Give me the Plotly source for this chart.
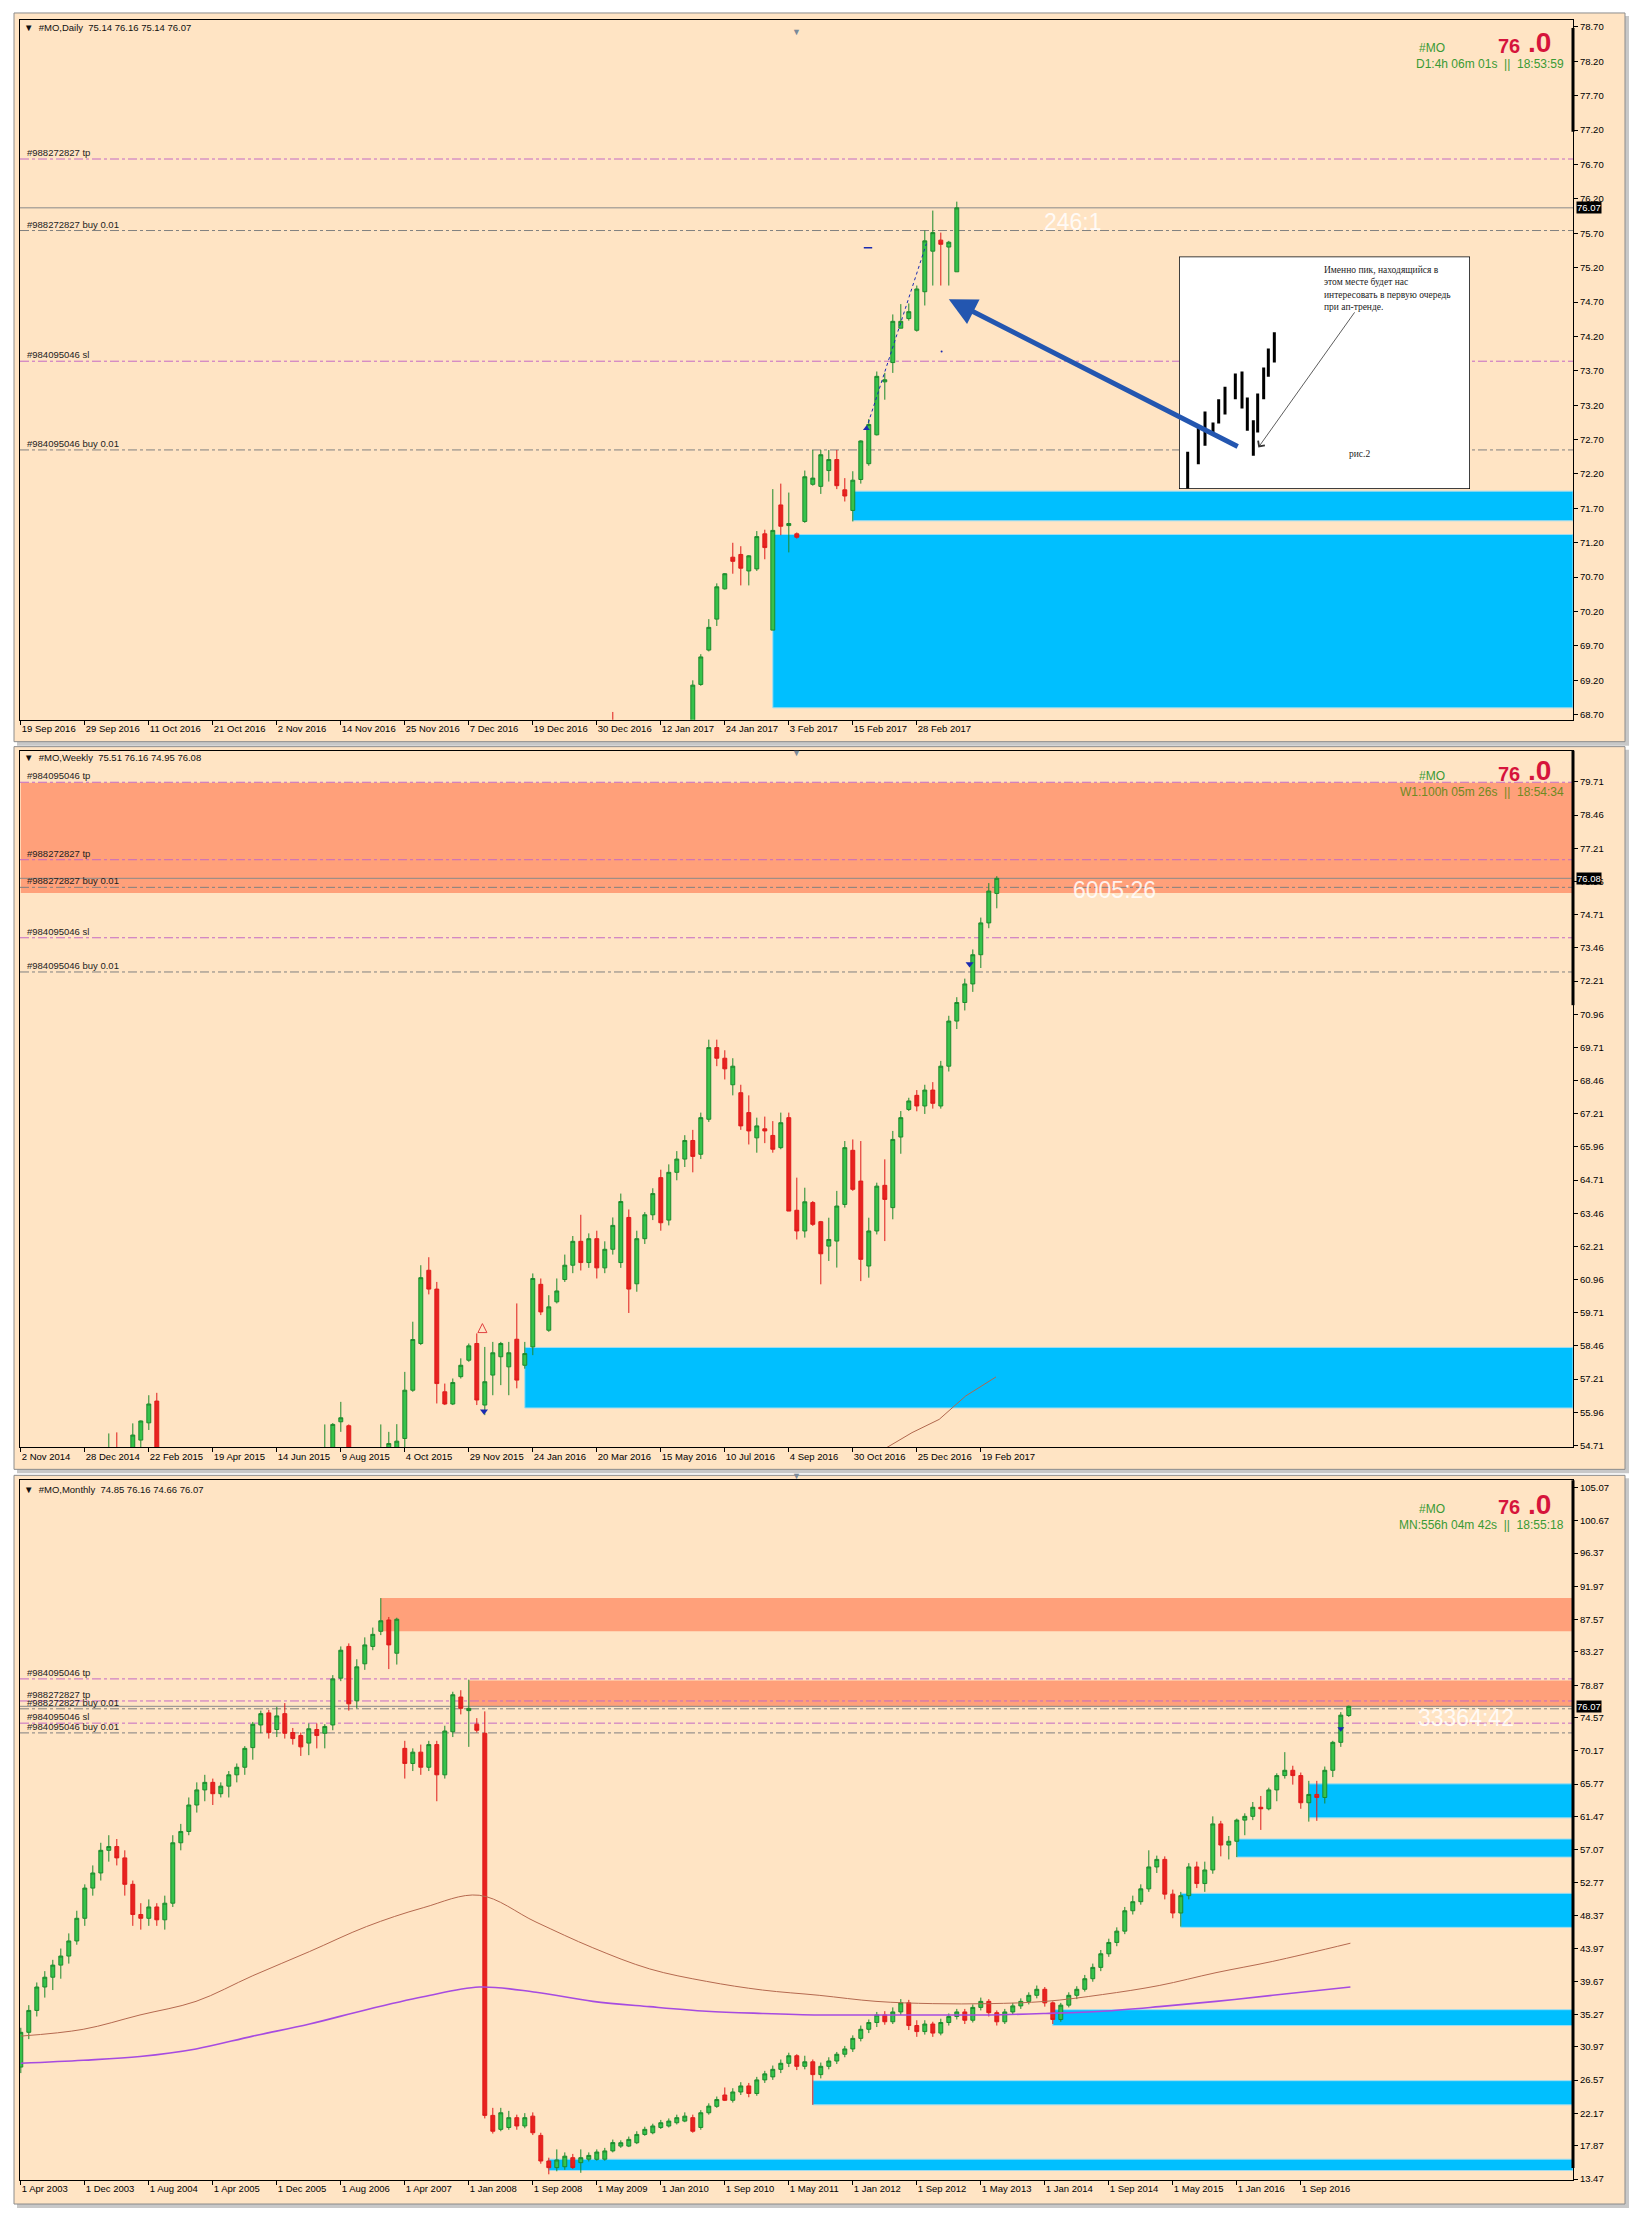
import plotly.graph_objects as go

W, H = 1631, 2217
BG = "#FFE4C4"
NARROW = "Liberation Sans Narrow, Arial Narrow, Liberation Sans, sans-serif"
SANS = "Liberation Sans, Arial, sans-serif"
G_LINE, G_FILL = "#1d8a2c", "#36c24b"
R_LINE, R_FILL = "#df1b1b", "#e8221f"
TP_COL, BUY_COL = "#c46ac4", "#808080"

# ---------------- DAILY ----------------
d_ticktext = ["19 Sep 2016", "29 Sep 2016", "11 Oct 2016", "21 Oct 2016", "2 Nov 2016",
              "14 Nov 2016", "25 Nov 2016", "7 Dec 2016", "19 Dec 2016", "30 Dec 2016",
              "12 Jan 2017", "24 Jan 2017", "3 Feb 2017", "15 Feb 2017", "28 Feb 2017"]
d_x = [74] + list(range(84, 118))
d_open = [68.50, 68.50, 69.14, 69.64, 70.09, 70.53, 70.99, 71.03, 70.79, 70.82, 71.33,
          69.93, 71.75, 71.45, 71.33, 71.51, 72.05, 72.02, 72.25, 72.41, 71.97, 71.67,
          72.12, 72.35, 72.77, 73.54, 73.82, 74.32, 74.46, 74.29, 74.85, 75.44, 75.60,
          75.50, 75.14]
d_high = [68.74, 69.20, 69.58, 70.09, 70.61, 70.76, 71.20, 71.15, 71.02, 71.37, 71.39,
          71.98, 72.06, 71.93, 71.35, 72.25, 72.55, 72.55, 72.55, 72.55, 72.14, 72.24,
          72.69, 73.00, 73.69, 73.67, 74.52, 74.67, 74.68, 74.94, 75.74, 76.03, 75.71,
          75.59, 76.16]
d_low = [68.20, 68.30, 69.12, 69.62, 69.99, 70.52, 70.75, 70.58, 70.58, 70.79, 70.96,
         69.93, 71.31, 71.06, 71.26, 71.49, 72.03, 71.91, 72.09, 71.98, 71.80, 71.51,
         72.06, 72.32, 72.76, 73.28, 73.67, 74.32, 74.43, 74.27, 74.65, 74.94, 74.94,
         74.94, 75.14]
d_close = [68.30, 69.13, 69.54, 69.97, 70.56, 70.75, 70.93, 70.83, 71.01, 71.29, 71.13,
           71.38, 71.44, 71.48, 71.28, 72.16, 72.14, 72.48, 72.41, 72.03, 71.88, 72.11,
           72.68, 72.92, 73.62, 73.57, 74.42, 74.42, 74.56, 74.89, 75.59, 75.71, 75.54,
           75.57, 76.07]
d_ticks = [68.70 + 0.5 * k for k in range(21)]
d_zones = [(94, 68.80, 71.32), (104, 71.52, 71.95)]          # (start bar, low, high)
d_trend_x = [105.7, 113.2]
d_trend_y = [72.86, 75.55]

# ---------------- WEEKLY ----------------
w_ticktext = ["2 Nov 2014", "28 Dec 2014", "22 Feb 2015", "19 Apr 2015", "14 Jun 2015",
              "9 Aug 2015", "4 Oct 2015", "29 Nov 2015", "24 Jan 2016", "20 Mar 2016",
              "15 May 2016", "10 Jul 2016", "4 Sep 2016", "30 Oct 2016", "25 Dec 2016",
              "19 Feb 2017"]
w_x = [11, 12, 14, 15, 16, 17, 38, 39, 40, 41] + list(range(45, 123))
w_open = [54.30, 54.50, 54.30, 54.91, 55.56, 56.38, 54.30, 54.40, 55.60, 55.45,
          54.30, 54.40, 54.40, 54.97, 56.79, 58.55, 61.31, 60.60, 56.73, 56.27,
          57.30, 57.92, 58.55, 56.23, 57.36, 58.05, 57.67, 58.71, 57.73, 58.42,
          60.78, 59.05, 60.12, 60.96, 61.50, 62.40, 61.60, 62.50, 61.40, 62.10,
          61.60, 63.30, 60.80, 62.50, 63.40, 64.80, 63.20, 65.00, 65.50, 66.20,
          65.68, 67.00, 69.70, 69.30, 68.30, 68.00, 67.25, 66.30, 66.64, 66.39,
          65.93, 67.06, 63.57, 62.79, 63.86, 63.14, 62.22, 62.41, 63.79, 65.83,
          64.67, 61.47, 62.79, 64.51, 63.67, 66.33, 67.37, 67.90, 67.50, 68.10,
          67.50, 69.00, 70.70, 71.40, 72.10, 73.20, 74.40, 75.51]
w_high = [55.16, 55.20, 55.54, 55.65, 56.60, 56.69, 55.50, 55.55, 56.35, 55.50,
          55.50, 55.22, 55.51, 57.48, 59.37, 61.50, 61.80, 60.87, 57.04, 57.23,
          57.99, 58.55, 58.93, 58.42, 58.61, 58.61, 58.61, 60.06, 58.61, 61.19,
          61.00, 60.37, 61.00, 61.90, 62.60, 63.40, 62.70, 62.80, 62.40, 63.30,
          64.20, 63.60, 62.80, 63.50, 64.40, 65.10, 65.30, 65.80, 66.40, 66.60,
          67.25, 70.00, 70.00, 69.60, 69.30, 68.30, 67.90, 67.06, 67.10, 66.93,
          67.25, 67.25, 64.80, 64.42, 63.92, 63.17, 63.29, 64.30, 66.18, 66.24,
          66.18, 63.29, 64.61, 65.49, 66.56, 67.31, 67.81, 68.10, 68.30, 68.40,
          69.20, 70.90, 71.60, 72.30, 73.40, 74.60, 75.90, 76.16]
w_low = [54.00, 54.00, 54.00, 54.50, 55.29, 54.20, 54.00, 54.20, 55.22, 54.20,
         54.00, 54.20, 54.20, 54.50, 56.73, 58.49, 60.40, 56.29, 56.23, 56.23,
         57.23, 57.86, 56.23, 55.85, 56.60, 56.98, 56.60, 56.86, 57.60, 58.11,
         59.62, 58.99, 60.06, 60.87, 61.20, 61.30, 61.40, 61.00, 61.20, 61.90,
         61.40, 59.70, 60.50, 62.30, 63.20, 62.80, 63.00, 64.70, 65.20, 65.00,
         65.50, 66.90, 69.00, 68.50, 67.90, 66.60, 66.05, 65.74, 66.10, 65.74,
         65.87, 63.54, 62.47, 62.54, 62.98, 60.78, 61.66, 61.41, 63.67, 64.30,
         60.90, 61.03, 62.66, 62.41, 63.23, 65.70, 67.31, 67.30, 67.20, 67.40,
         67.40, 68.80, 70.40, 71.10, 71.80, 72.70, 74.20, 74.95]
w_close = [54.45, 54.30, 55.10, 55.63, 56.27, 54.40, 54.50, 55.50, 55.75, 54.40,
           54.50, 54.78, 54.87, 56.79, 58.70, 61.03, 60.60, 57.04, 56.27, 57.08,
           57.73, 58.46, 56.42, 57.11, 58.20, 58.55, 58.20, 57.17, 58.17, 61.00,
           59.74, 59.93, 60.53, 61.50, 62.40, 61.60, 62.50, 61.40, 62.10, 63.00,
           63.90, 60.60, 62.50, 63.40, 64.20, 63.10, 65.00, 65.50, 66.20, 65.60,
           67.06, 69.70, 69.30, 68.90, 69.00, 66.75, 66.56, 66.75, 66.56, 65.87,
           66.87, 63.54, 62.79, 63.89, 63.04, 61.93, 62.47, 63.73, 65.93, 64.36,
           61.72, 62.79, 64.48, 63.98, 66.24, 67.06, 67.69, 67.50, 68.10, 67.60,
           69.00, 70.70, 71.40, 72.10, 73.20, 74.40, 75.60, 76.08]
w_ticks = [54.71 + 1.25 * k for k in range(21)]
w_supply = [(0, 75.53, 79.68)]
w_zones = [(63, 56.12, 58.40)]
w_ma_x = [108.2, 111.4, 114.8, 118.1, 121.9]
w_ma_y = [54.62, 55.19, 55.69, 56.57, 57.29]

# ---------------- MONTHLY ----------------
m_ticktext = ["1 Apr 2003", "1 Dec 2003", "1 Aug 2004", "1 Apr 2005", "1 Dec 2005",
              "1 Aug 2006", "1 Apr 2007", "1 Jan 2008", "1 Sep 2008", "1 May 2009",
              "1 Jan 2010", "1 Sep 2010", "1 May 2011", "1 Jan 2012", "1 Sep 2012",
              "1 May 2013", "1 Jan 2014", "1 Sep 2014", "1 May 2015", "1 Jan 2016",
              "1 Sep 2016"]
m_x = list(range(0, 167))
m_open = [28.3, 32.9, 35.8, 38.9, 40.2, 41.8, 43.0, 45.0, 48.0, 52.0,
          54.0, 57.0, 57.5, 56.0, 52.5, 48.5, 48.0, 49.5, 47.8, 50.0,
          58.0, 59.5, 63.0, 65.0, 66.0, 64.5, 65.5, 67.0, 68.0, 70.6,
          73.6, 75.2, 73.0, 75.1, 72.6, 72.2, 71.2, 73.0, 72.5, 73.6,
          79.8, 84.0, 76.8, 81.7, 84.0, 86.0, 87.5, 83.1, 70.5, 68.5,
          70.0, 68.0, 71.0, 67.0, 72.7, 77.3, 75.5, 73.7, 72.5, 21.9,
          20.05, 20.3, 21.6, 20.5, 21.8, 19.25, 15.86, 14.98, 15.1, 16.3,
          15.64, 16.1, 16.08, 16.1, 17.2, 17.84, 17.84, 18.28, 19.38, 19.6,
          20.3, 20.5, 20.93, 21.15, 21.6, 20.3, 22.25, 23.1, 24.6, 23.9,
          25.0, 25.8, 24.8, 26.6, 27.0, 28.0, 28.8, 29.8, 28.4, 29.0,
          27.3, 28.4, 29.1, 30.0, 30.7, 32.1, 33.3, 34.2, 35.2, 34.3,
          35.6, 36.8, 33.8, 33.0, 34.0, 32.8, 34.2, 35.0, 35.6, 34.5,
          36.2, 37.0, 35.5, 34.3, 35.6, 36.4, 37.0, 37.8, 38.6, 36.8,
          34.6, 36.5, 37.8, 38.6, 40.0, 41.5, 43.3, 44.8, 46.3, 49.0,
          50.2, 51.9, 54.8, 55.8, 51.2, 48.7, 51.0, 54.8, 52.6, 54.4,
          60.5, 57.7, 58.2, 61.0, 61.5, 62.7, 62.5, 65.0, 66.9, 67.6,
          66.9, 63.3, 64.4, 64.0, 67.6, 71.3, 74.85]
m_high = [33.5, 36.5, 39.5, 41.0, 42.5, 44.0, 46.0, 49.0, 52.5, 55.0,
          58.0, 59.0, 58.5, 57.0, 53.0, 50.0, 50.5, 50.0, 51.0, 59.0,
          60.5, 64.0, 66.0, 67.0, 66.5, 66.0, 67.5, 68.5, 70.8, 74.0,
          75.5, 75.6, 76.0, 76.5, 73.2, 72.6, 73.8, 73.8, 73.7, 80.2,
          84.0, 84.4, 82.3, 85.2, 86.5, 90.4, 87.9, 87.8, 71.5, 70.5,
          71.0, 71.5, 71.5, 73.5, 78.0, 78.2, 79.6, 74.5, 75.4, 22.9,
          22.9, 22.5, 22.0, 22.2, 22.3, 19.6, 16.3, 17.4, 17.0, 16.8,
          17.4, 17.0, 17.4, 17.6, 18.7, 18.6, 19.1, 19.8, 20.4, 20.8,
          21.3, 21.5, 22.0, 22.3, 22.0, 22.6, 23.5, 24.4, 25.6, 25.5,
          26.3, 26.2, 27.0, 27.8, 28.5, 29.3, 30.2, 30.0, 29.8, 29.3,
          28.9, 29.6, 30.3, 31.1, 32.5, 33.8, 34.6, 35.6, 35.7, 36.2,
          37.3, 37.2, 34.5, 34.5, 34.3, 34.7, 35.4, 36.0, 36.0, 36.6,
          37.5, 37.3, 35.8, 36.0, 36.8, 37.4, 38.2, 39.1, 38.9, 37.0,
          36.8, 38.2, 39.0, 40.5, 42.0, 43.8, 45.3, 46.8, 49.5, 51.0,
          52.5, 57.0, 56.3, 56.2, 51.8, 51.5, 55.3, 55.5, 55.5, 61.5,
          60.9, 58.9, 61.2, 61.9, 63.4, 64.2, 65.3, 67.2, 70.0, 68.2,
          67.3, 66.2, 66.2, 68.1, 71.5, 75.3, 76.16]
m_low = [27.5, 32.0, 35.0, 37.5, 38.5, 40.0, 42.0, 44.5, 47.0, 51.0,
         53.0, 55.5, 55.0, 51.0, 47.0, 46.5, 47.0, 47.0, 46.5, 49.5,
         57.0, 59.0, 62.0, 63.5, 63.0, 64.0, 64.0, 66.0, 67.0, 69.0,
         72.5, 71.8, 72.0, 71.8, 71.0, 69.5, 69.6, 70.5, 70.5, 72.9,
         79.4, 75.5, 75.8, 80.9, 83.5, 85.5, 81.0, 81.6, 66.5, 67.5,
         67.0, 67.5, 63.5, 66.5, 72.0, 75.0, 70.7, 72.6, 21.5, 19.5,
         19.8, 20.0, 20.0, 20.2, 19.3, 15.5, 14.1, 14.5, 14.7, 14.8,
         14.3, 15.8, 15.9, 15.9, 17.0, 17.6, 17.7, 18.1, 19.2, 19.4,
         20.1, 20.3, 20.7, 21.0, 19.6, 20.0, 22.0, 22.9, 23.8, 23.6,
         24.6, 24.3, 24.5, 26.2, 26.6, 27.5, 28.3, 27.9, 28.0, 23.3,
         26.8, 28.0, 28.7, 29.6, 30.3, 31.7, 32.8, 33.6, 33.9, 34.0,
         35.2, 33.2, 32.3, 32.6, 32.3, 32.5, 33.8, 34.6, 34.0, 34.2,
         35.8, 35.0, 33.8, 34.0, 35.2, 36.0, 36.6, 37.4, 36.3, 34.0,
         34.3, 36.2, 37.3, 38.3, 39.6, 41.0, 42.9, 44.3, 45.9, 48.5,
         49.8, 51.5, 54.0, 50.5, 48.0, 46.9, 50.5, 52.0, 51.5, 53.9,
         56.2, 55.8, 56.1, 59.0, 61.0, 59.7, 62.3, 63.5, 66.5, 65.7,
         62.5, 60.8, 60.9, 63.2, 66.7, 70.7, 74.66]
m_close = [32.9, 35.8, 38.9, 40.2, 41.8, 43.0, 45.0, 48.0, 52.0, 54.0,
           57.0, 57.5, 56.0, 52.5, 48.5, 48.0, 49.5, 47.8, 50.0, 58.0,
           59.5, 63.0, 65.0, 66.0, 64.5, 65.5, 67.0, 68.0, 70.5, 73.7,
           75.1, 72.6, 74.8, 72.5, 71.8, 70.7, 73.1, 72.2, 73.4, 79.7,
           83.5, 76.4, 81.3, 84.2, 85.6, 87.4, 84.2, 87.6, 68.5, 70.0,
           68.0, 71.0, 67.0, 72.8, 77.6, 75.8, 75.8, 72.9, 21.9, 19.8,
           22.25, 21.6, 20.5, 21.6, 19.6, 15.86, 14.98, 16.0, 16.5, 15.0,
           16.3, 16.6, 17.05, 17.2, 18.3, 18.28, 18.72, 19.38, 20.05, 20.5,
           20.93, 21.15, 21.6, 21.8, 19.8, 22.25, 23.13, 24.0, 23.9, 25.0,
           25.8, 24.8, 26.6, 27.4, 28.0, 28.8, 29.8, 28.4, 29.0, 27.3,
           28.4, 29.1, 30.0, 30.7, 32.1, 33.3, 34.2, 35.2, 34.3, 35.6,
           36.8, 33.8, 33.0, 34.0, 32.8, 34.2, 35.0, 35.6, 34.5, 36.2,
           37.0, 35.5, 34.3, 35.6, 36.4, 37.0, 37.8, 38.6, 36.8, 34.6,
           36.5, 37.8, 38.6, 40.0, 41.5, 43.3, 44.8, 46.3, 49.0, 50.2,
           51.9, 54.8, 55.8, 51.2, 48.7, 51.0, 54.8, 52.6, 54.4, 60.5,
           57.7, 58.2, 61.0, 61.5, 62.7, 62.5, 65.0, 66.9, 67.6, 66.9,
           63.3, 64.4, 64.0, 67.6, 71.3, 74.9, 76.07]
m_ticks = [105.07, 100.67, 96.37, 91.97, 87.57, 83.27, 78.87, 74.57, 70.17, 65.77, 61.47,
           57.07, 52.77, 48.37, 43.97, 39.67, 35.27, 30.97, 26.57, 22.17, 17.87, 13.47]
m_supply = [(45, 86.0, 90.4), (56, 76.0, 79.5)]
m_zones = [(161, 61.3, 65.8), (152, 56.1, 58.5), (145, 46.8, 51.3),
           (129, 33.8, 35.9), (99, 23.3, 26.5), (66, 14.6, 16.1)]
m_ma_x = [0, 7.8, 14.9, 21.9, 29.0, 36.1, 43.2, 50.3, 57.3, 64.4, 71.5, 78.6, 85.7,
          92.7, 99.8, 106.9, 114.0, 121.1, 128.1, 135.2, 142.3, 149.4, 156.5, 166.2]
m_ma1 = [32.4, 33.3, 35.2, 37.0, 40.4, 43.6, 46.9, 49.4, 51.05, 47.5, 44.1, 41.3, 39.65,
         38.5, 37.8, 37.0, 36.7, 36.7, 37.0, 37.9, 39.1, 40.8, 42.3, 44.7]
m_ma2 = [28.8, 29.2, 29.7, 30.7, 32.4, 34.0, 35.9, 37.6, 38.9, 38.2, 37.0, 36.3, 35.7,
         35.4, 35.2, 35.2, 35.2, 35.2, 35.4, 35.7, 36.3, 37.0, 37.8, 38.9]

# order lines (shared by all panels)
ord_names = ["#984095046 tp", "#988272827 tp", "#988272827 buy 0.01", "#984095046 sl",
             "#984095046 buy 0.01"]
ord_prices = [79.70, 76.78, 75.74, 73.84, 72.55]
ord_kind = ["tp", "tp", "buy", "tp", "buy"]

# inset picture (рис.2) data, in its own units
ins_x = [113, 145, 165, 189, 206, 225, 256, 276, 292, 310, 323, 341, 355, 373]
ins_top = [638, 565, 517, 550, 480, 443, 403, 397, 475, 543, 463, 385, 328, 279]
ins_bot = [748, 675, 620, 583, 553, 526, 480, 508, 575, 650, 580, 480, 413, 370]

# ---------------- geometry ----------------
PL, PR = 20, 1573
BARPX = 8.0
X0 = -0.1
X1 = X0 + (PR - PL) / BARPX


def X(p):
    return p / W


def Y(p):
    return 1 - p / H


def yrange(top, bot, v1, p1, v2, p2):
    ppu = (p2 - p1) / (v1 - v2)
    return [v2 - (bot - p2) / ppu, v1 + (p1 - top) / ppu]


panels = [
    dict(top=20, bot=721, rng=yrange(20, 721, 78.70, 27, 68.70, 716)),
    dict(top=752, bot=1450, rng=yrange(752, 1450, 79.71, 783.4, 54.71, 1448)),
    dict(top=1483, bot=2184, rng=yrange(1483, 2184, 105.07, 1490, 13.47, 2183)),
]

fig = go.Figure()


def candles(x, o, h, l, c, xa, ya):
    return go.Candlestick(x=x, open=o, high=h, low=l, close=c, xaxis=xa, yaxis=ya,
                          increasing=dict(line=dict(color=G_LINE, width=1), fillcolor=G_FILL),
                          decreasing=dict(line=dict(color=R_LINE, width=1), fillcolor=R_FILL),
                          whiskerwidth=0, showlegend=False, hoverinfo="skip")


fig.add_trace(candles(d_x, d_open, d_high, d_low, d_close, "x", "y"))
fig.add_trace(go.Scatter(x=d_trend_x, y=d_trend_y, mode="lines", xaxis="x", yaxis="y",
                         line=dict(color="#1a2ab0", width=1, dash="dot"), showlegend=False,
                         hoverinfo="skip"))
fig.add_trace(go.Scatter(x=[105.9], y=[75.49], mode="markers", xaxis="x", yaxis="y",
                         marker=dict(symbol="line-ew", size=6, line=dict(color="#1a2ab0", width=1.5)),
                         showlegend=False, hoverinfo="skip"))
fig.add_trace(go.Scatter(x=[115.1], y=[73.98], mode="markers", xaxis="x", yaxis="y",
                         marker=dict(symbol="circle", size=2, color="#1a2ab0"),
                         showlegend=False, hoverinfo="skip"))
fig.add_trace(go.Scatter(x=[105.7], y=[72.86], mode="markers", xaxis="x", yaxis="y",
                         marker=dict(symbol="triangle-up", size=6, color="#1a2ab0"),
                         showlegend=False, hoverinfo="skip"))

fig.add_trace(candles(w_x, w_open, w_high, w_low, w_close, "x2", "y2"))
fig.add_trace(go.Scatter(x=w_ma_x, y=w_ma_y, mode="lines", xaxis="x2", yaxis="y2",
                         line=dict(color="#b0674d", width=1), showlegend=False, hoverinfo="skip"))
fig.add_trace(go.Scatter(x=[57.7], y=[59.3], mode="markers", xaxis="x2", yaxis="y2",
                         marker=dict(symbol="arrow-up-open", size=9, color="#e04040",
                                     line=dict(color="#e04040", width=1)),
                         showlegend=False, hoverinfo="skip"))
fig.add_trace(go.Scatter(x=[57.9, 118.6], y=[56.0, 72.85], mode="markers", xaxis="x2", yaxis="y2",
                         marker=dict(symbol="triangle-down", size=7, color="#1a2ab0"),
                         showlegend=False, hoverinfo="skip"))

fig.add_trace(go.Scatter(x=m_ma_x, y=m_ma1, mode="lines", xaxis="x3", yaxis="y3",
                         line=dict(color="#b5694f", width=1, shape="spline"), showlegend=False,
                         hoverinfo="skip"))
fig.add_trace(go.Scatter(x=m_ma_x, y=m_ma2, mode="lines", xaxis="x3", yaxis="y3",
                         line=dict(color="#a64be0", width=1.6, shape="spline"), showlegend=False,
                         hoverinfo="skip"))
fig.add_trace(candles(m_x, m_open, m_high, m_low, m_close, "x3", "y3"))
fig.add_trace(go.Scatter(x=[165.0], y=[73.1], mode="markers", xaxis="x3", yaxis="y3",
                         marker=dict(symbol="triangle-down", size=6, color="#1a2ab0"),
                         showlegend=False, hoverinfo="skip"))

# inset bars
seg_x, seg_y = [], []
for xx, t, b in zip(ins_x, ins_top, ins_bot):
    seg_x += [xx, xx, None]
    seg_y += [b, t, None]
fig.add_trace(go.Scatter(x=seg_x, y=seg_y, mode="lines", xaxis="x4", yaxis="y4",
                         line=dict(color="#000", width=3), showlegend=False, hoverinfo="skip"))

# ---------------- axes ----------------
ticks_sets = [(d_ticktext, d_ticks), (w_ticktext, w_ticks), (m_ticktext, m_ticks)]
layout = dict(width=W, height=H, margin=dict(l=0, r=0, t=0, b=0),
              paper_bgcolor="#ffffff", plot_bgcolor=BG, showlegend=False)
for i, (pan, (ttext, tvals)) in enumerate(zip(panels, ticks_sets)):
    sx = "" if i == 0 else str(i + 1)
    layout["xaxis" + sx] = dict(
        domain=[X(PL), X(PR)], anchor="y" + sx, range=[X0, X1], tickmode="array",
        tickvals=[8 * k for k in range(len(ttext))], ticktext=ttext, ticks="outside",
        ticklen=4, tickcolor="#000", ticklabelposition="outside right", tickangle=0,
        showline=True, linecolor="#000", linewidth=1, mirror=True, showgrid=False,
        zeroline=False, rangeslider=dict(visible=False), fixedrange=True,
        tickfont=dict(family=NARROW, size=9.5, color="#000"))
    layout["yaxis" + sx] = dict(
        domain=[Y(pan["bot"]), Y(pan["top"])], anchor="x" + sx, range=pan["rng"], side="right",
        tickmode="array", tickvals=tvals, ticktext=["%.2f" % v for v in tvals], ticks="outside",
        ticklen=4, tickcolor="#000", showline=True, linecolor="#000", linewidth=1, mirror=True,
        showgrid=False, zeroline=False, fixedrange=True,
        tickfont=dict(family=SANS, size=9.5, color="#000"))
layout["xaxis4"] = dict(domain=[X(1179), X(1470)], anchor="y4", range=[87, 960], visible=False,
                        fixedrange=True)
layout["yaxis4"] = dict(domain=[Y(490), Y(257)], anchor="x4", range=[750, 52], visible=False,
                        fixedrange=True)

shapes = []
annos = []

# panel windows
wins = [(14, 13, 1625, 743), (14, 748, 1625, 1472), (14, 1478, 1625, 2208)]
for (x0, y0, x1, y1) in wins:
    shapes.append(dict(type="rect", xref="paper", yref="paper", x0=X(x0 + 3), x1=X(x1 + 4),
                       y0=Y(y0 + 3), y1=Y(y1 + 4), fillcolor="#c8c8c8", line=dict(width=0),
                       layer="below"))
    shapes.append(dict(type="rect", xref="paper", yref="paper", x0=X(x0), x1=X(x1),
                       y0=Y(y0), y1=Y(y1), fillcolor=BG, line=dict(color="#8c8c8c", width=1),
                       layer="below"))

# zones
zone_sets = [("x", "y", d_zones, []), ("x2", "y2", w_zones, w_supply), ("x3", "y3", m_zones, m_supply)]
for xa, ya, dz, sz in zone_sets:
    for (s, lo, hi) in sz:
        shapes.append(dict(type="rect", xref=xa, yref=ya, x0=s, x1=X1, y0=lo, y1=hi,
                           fillcolor="#FFA07A", line=dict(width=0), layer="below"))
    for (s, lo, hi) in dz:
        shapes.append(dict(type="rect", xref=xa, yref=ya, x0=s, x1=X1, y0=lo, y1=hi,
                           fillcolor="#00BFFF", line=dict(color="#9fdcf0", width=1), layer="below"))

# order lines + labels
cur_prices = [76.07, 76.08, 76.07]
for i, (xa, ya) in enumerate([("x", "y"), ("x2", "y2"), ("x3", "y3")]):
    lo, hi = panels[i]["rng"]
    for name, p, k in zip(ord_names, ord_prices, ord_kind):
        if not (lo < p < hi):
            continue
        shapes.append(dict(type="line", xref=xa, yref=ya, x0=X0, x1=X1, y0=p, y1=p,
                           line=dict(color=TP_COL if k == "tp" else BUY_COL, width=1, dash="dashdot"),
                           layer="below"))
        annos.append(dict(xref=xa, yref=ya, x=0.5, y=p, text=name, showarrow=False,
                          xanchor="left", yanchor="bottom", yshift=-1,
                          font=dict(family=NARROW, size=9.5, color="#222")))
    cp = cur_prices[i]
    shapes.append(dict(type="line", xref=xa, yref=ya, x0=X0, x1=X1, y0=cp, y1=cp,
                       line=dict(color="#8a8a8a", width=1), layer="below"))
    annos.append(dict(xref="paper", yref=ya, x=X(1576), y=cp, text="%.2f" % cp, showarrow=False,
                      xanchor="left", yanchor="middle", bgcolor="#000", borderpad=0,
                      font=dict(family=SANS, size=9.5, color="#fff")))

# inset white box
shapes.append(dict(type="rect", xref="x4", yref="y4", x0=87, x1=960, y0=52, y1=750,
                   fillcolor="#ffffff", line=dict(color="#000", width=1.5), layer="below"))

# thick scale markers at the price axis
for (a, b) in [(28, 132), (752, 1007), (1483, 2172)]:
    shapes.append(dict(type="line", xref="paper", yref="paper", x0=X(PR), x1=X(PR),
                       y0=Y(a), y1=Y(b), line=dict(color="#000", width=3)))

# headers and info blocks
headers = ["#MO,Daily  75.14 76.16 75.14 76.07", "#MO,Weekly  75.51 76.16 74.95 76.08",
           "#MO,Monthly  74.85 76.16 74.66 76.07"]
infos = ["D1:4h 06m 01s  ||  18:53:59", "W1:100h 05m 26s  ||  18:54:34",
         "MN:556h 04m 42s  ||  18:55:18"]
info_cols = ["#3a9a34", "#6f8a22", "#3a9a34"]
head_y = [28, 759, 1492]
info_top = [44, 773, 1508]
for i in range(3):
    annos.append(dict(xref="paper", yref="paper", x=X(22), y=Y(head_y[i]),
                      text="\u25bc  " + headers[i], showarrow=False, xanchor="left",
                      yanchor="middle", font=dict(family=NARROW, size=9.5, color="#111")))
    annos.append(dict(xref="paper", yref="paper", x=X(796), y=Y(head_y[i] - 5), text="\u25bc",
                      showarrow=False, font=dict(size=9, color="#7a8a9a")))
    t = info_top[i]
    annos.append(dict(xref="paper", yref="paper", x=X(1432), y=Y(t + 4), text="#MO",
                      showarrow=False, xanchor="center", yanchor="middle",
                      font=dict(family=SANS, size=12, color="#3a9a34")))
    annos.append(dict(xref="paper", yref="paper", x=X(1522), y=Y(t + 2), text="<b>76</b>",
                      showarrow=False, xanchor="right", yanchor="middle",
                      font=dict(family=SANS, size=20, color="#d6143c")))
    annos.append(dict(xref="paper", yref="paper", x=X(1526), y=Y(t - 1), text="<b>.0</b>",
                      showarrow=False, xanchor="left", yanchor="middle",
                      font=dict(family=SANS, size=28, color="#d6143c")))
    annos.append(dict(xref="paper", yref="paper", x=X(1566), y=Y(t + 20), text=infos[i],
                      showarrow=False, xanchor="right", yanchor="middle",
                      font=dict(family=SANS, size=12, color=info_cols[i])))

# watermark ratios
for txt, cx, cy in [("246:1", 1073, 222), ("6005:26", 1114, 892), ("33364:42", 1466, 1721)]:
    annos.append(dict(xref="paper", yref="paper", x=X(cx), y=Y(cy), text=txt, showarrow=False,
                      xanchor="center", yanchor="middle", opacity=0.85,
                      font=dict(family=NARROW, size=23, color="#ffffff")))

# big blue arrow
annos.append(dict(xref="x", yref="y", x=116.0, y=74.74, axref="x", ayref="y", ax=152.3, ay=72.59,
                  text="", showarrow=True, arrowhead=2, arrowsize=1.1, arrowwidth=5,
                  arrowcolor="#2356b0"))
# inset text + arrow
annos.append(dict(xref="x4", yref="y4", x=515, y=70, xanchor="left", yanchor="top",
                  text="Именно пик, находящийся в<br>этом месте будет нас<br>"
                       "интересовать в первую очередь<br>при ап-тренде.",
                  align="left", showarrow=False,
                  font=dict(family="Liberation Serif, Times New Roman, serif", size=9.5, color="#222")))
annos.append(dict(xref="x4", yref="y4", x=590, y=645, xanchor="left", yanchor="middle",
                  text="рис.2", showarrow=False,
                  font=dict(family="Liberation Serif, Times New Roman, serif", size=9.5, color="#222")))
annos.append(dict(xref="x4", yref="y4", x=325, y=625, axref="x4", ayref="y4", ax=617, ay=215,
                  text="", showarrow=True, arrowhead=4, arrowsize=2, arrowwidth=0.8,
                  arrowcolor="#333"))

layout["shapes"] = shapes
layout["annotations"] = annos
fig.update_layout(**layout)
fig.write_html("out.html")
